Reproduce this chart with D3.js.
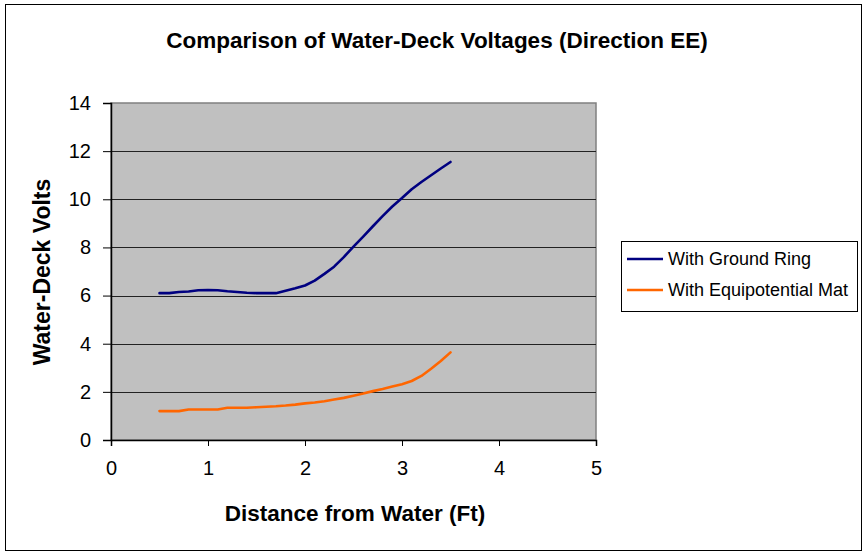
<!DOCTYPE html>
<html>
<head>
<meta charset="utf-8">
<script src="https://cdn.jsdelivr.net/npm/d3@7"></script>
<style>
  body { margin: 0; background: #fff; }
  text { font-family: "Liberation Sans", Arial, sans-serif; }
</style>
</head>
<body>
<div id="chart"></div>
<script>
const distance = [0.5, 0.6, 0.7, 0.8, 0.9, 1.0, 1.1, 1.2, 1.3, 1.4, 1.5, 1.6, 1.7, 1.8, 1.9, 2.0,
  2.1, 2.2, 2.3, 2.4, 2.5, 2.6, 2.7, 2.8, 2.9, 3.0, 3.1, 3.2, 3.3, 3.4, 3.5];
const groundRing = [6.10, 6.10, 6.15, 6.17, 6.22, 6.23, 6.22, 6.18, 6.15, 6.12, 6.10, 6.10, 6.10, 6.20, 6.30, 6.42,
  6.62, 6.90, 7.20, 7.60, 8.03, 8.45, 8.88, 9.30, 9.70, 10.05, 10.42, 10.72, 11.00, 11.28, 11.55];
const equipotentialMat = [1.20, 1.20, 1.20, 1.27, 1.27, 1.27, 1.27, 1.34, 1.34, 1.34, 1.36, 1.38, 1.40, 1.43, 1.47, 1.52,
  1.56, 1.61, 1.68, 1.75, 1.84, 1.93, 2.03, 2.12, 2.22, 2.32, 2.45, 2.66, 2.96, 3.28, 3.64];
const seriesNames = ["With Ground Ring", "With Equipotential Mat"];
const seriesColors = ["#000080", "#FF6600"];
const xTicks = [0, 1, 2, 3, 4, 5];
const yTicks = [0, 2, 4, 6, 8, 10, 12, 14];

const W = 867, H = 555;
const plot = {left: 111, top: 103, right: 596, bottom: 440};

const svg = d3.select("#chart").append("svg")
  .attr("width", W).attr("height", H);

// outer chart border
svg.append("rect").attr("x", 5.5).attr("y", 4.5).attr("width", 856).attr("height", 546)
  .attr("fill", "#fff").attr("stroke", "#000").attr("stroke-width", 1);

const x = d3.scaleLinear().domain([0, 5]).range([plot.left, plot.right]);
const y = d3.scaleLinear().domain([0, 14]).range([plot.bottom, plot.top]);

// plot background
svg.append("rect").attr("x", plot.left).attr("y", plot.top)
  .attr("width", plot.right - plot.left).attr("height", plot.bottom - plot.top)
  .attr("fill", "#C0C0C0").attr("stroke", "#808080").attr("stroke-width", 1.5);

// gridlines
svg.append("g").selectAll("line").data(yTicks.filter(d => d > 0 && d < 14)).join("line")
  .attr("x1", plot.left).attr("x2", plot.right)
  .attr("y1", d => Math.round(y(d)) + 0.5).attr("y2", d => Math.round(y(d)) + 0.5)
  .attr("stroke", "#222").attr("stroke-width", 1);

// axes
const yAxis = svg.append("g").attr("transform", `translate(${plot.left},0)`)
  .call(d3.axisLeft(y).tickValues(yTicks).tickSize(8).tickPadding(12).tickFormat(d3.format("d")));
const xAxis = svg.append("g").attr("transform", `translate(0,${plot.bottom})`)
  .call(d3.axisBottom(x).tickValues(xTicks).tickSize(6).tickPadding(15).tickFormat(d3.format("d")));
[xAxis, yAxis].forEach(a => {
  a.select(".domain").attr("stroke", "#000").attr("stroke-width", 1.5);
  a.selectAll(".tick line").attr("stroke", "#000");
  a.selectAll(".tick text").attr("font-size", 20).attr("fill", "#000")
    .style("font-family", '"Liberation Sans", Arial, sans-serif');
});

// lines
const line = d3.line().x((d, i) => x(distance[i])).y(d => y(d));
[groundRing, equipotentialMat].forEach((vals, k) => {
  svg.append("path").datum(vals)
    .attr("d", line).attr("fill", "none")
    .attr("stroke", seriesColors[k]).attr("stroke-width", 2.6)
    .attr("stroke-linejoin", "round").attr("stroke-linecap", "round");
});

// titles
svg.append("text").attr("x", 437).attr("y", 48).attr("text-anchor", "middle")
  .attr("font-size", 22.5).attr("font-weight", "bold").text("Comparison of Water-Deck Voltages (Direction EE)");
svg.append("text").attr("x", 355).attr("y", 521).attr("text-anchor", "middle")
  .attr("font-size", 22.5).attr("font-weight", "bold").text("Distance from Water (Ft)");
svg.append("text").attr("transform", "translate(50,272) rotate(-90)").attr("text-anchor", "middle")
  .attr("font-size", 23).attr("font-weight", "bold").text("Water-Deck Volts");

// legend
const lg = svg.append("g").attr("transform", "translate(621,241)");
lg.append("rect").attr("x", 0.5).attr("y", 0.5).attr("width", 236).attr("height", 70)
  .attr("fill", "#fff").attr("stroke", "#000");
seriesNames.forEach((name, k) => {
  const yy = 18 + k * 31;
  lg.append("line").attr("x1", 6).attr("x2", 42).attr("y1", yy).attr("y2", yy)
    .attr("stroke", seriesColors[k]).attr("stroke-width", 2.6);
  lg.append("text").attr("x", 47).attr("y", yy + 6).attr("font-size", 18).text(name);
});
</script>
</body>
</html>
